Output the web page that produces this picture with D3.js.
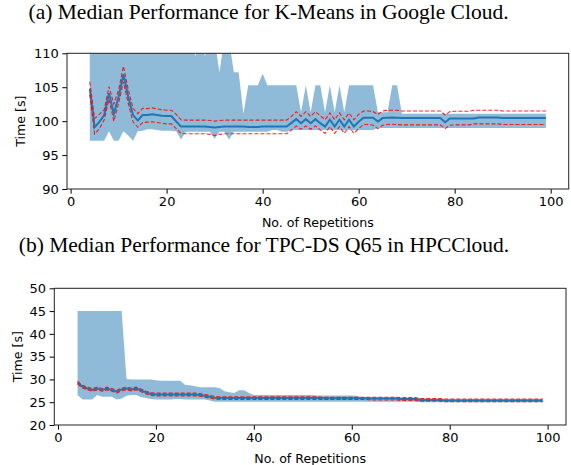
<!DOCTYPE html>
<html>
<head>
<meta charset="utf-8">
<script src="https://cdn.jsdelivr.net/npm/d3@7"></script>
<style>
  html, body { margin: 0; padding: 0; background: #fff; }
  svg { display: block; }
  .tick text { font-family: "DejaVu Sans", sans-serif; font-size: 13px; fill: #000; }
  .tick line { stroke: #000; }
  .title { font-family: "Liberation Serif", "Times New Roman", Times, serif; font-size: 21.5px; fill: #000; }
  .label { font-family: "DejaVu Sans", sans-serif; font-size: 12.6px; fill: #000; }
</style>
</head>
<body>
<div id="chart"></div>
<script>
// repetitions 4..99 on the x axis
const reps = d3.range(4, 100);

// (a) K-Means in Google Cloud
const kmMedian = [
  104.8, 99.1, 99.9, 100.9, 104.1, 101.1, 103.6, 106.9, 103.6, 100.9,
  100.1, 100.9, 100.9, 101.0, 100.9, 100.8, 100.75, 100.75, 99.95, 99.2,
  99.2, 99.2, 99.2, 99.2, 99.2, 99.15, 99.05, 99.15, 99.2, 99.2,
  99.2, 99.2, 99.2, 99.15, 99.15, 99.15, 99.2, 99.2, 99.2, 99.2,
  99.2, 99.2, 99.75, 100.3, 99.7, 100.3, 99.7, 100.3, 99.7, 99.2,
  100.2, 99.2, 100.2, 99.2, 100.2, 99.2, 99.9, 100.5, 100.5, 100.5,
  99.95, 100.45, 100.5, 100.55, 100.5, 100.45, 100.45, 100.45, 100.45, 100.45,
  100.45, 100.45, 100.45, 100.45, 99.85, 100.4, 100.4, 100.4, 100.4, 100.4,
  100.4, 100.55, 100.55, 100.55, 100.55, 100.55, 100.45, 100.45, 100.45, 100.45,
  100.45, 100.45, 100.45, 100.45, 100.45, 100.45
];
const kmUpper = [
  105.8, 100.4, 101.0, 101.7, 105.1, 102.5, 104.6, 108.1, 104.7, 101.9,
  101.1, 101.9, 101.85, 101.95, 101.8, 101.7, 101.6, 101.6, 101.0, 100.2,
  100.15, 100.15, 100.15, 100.15, 100.15, 100.1, 100.0, 100.1, 100.15, 100.15,
  100.15, 100.15, 100.15, 100.15, 100.15, 100.15, 100.15, 100.15, 100.15, 100.15,
  100.15, 100.15, 100.7, 101.4, 100.7, 101.4, 100.7, 101.4, 100.8, 100.2,
  101.2, 100.2, 101.2, 100.2, 101.2, 100.2, 101.0, 101.5, 101.5, 101.4,
  101.0, 101.5, 101.6, 101.6, 101.6, 101.5, 101.5, 101.5, 101.5, 101.5,
  101.5, 101.5, 101.5, 101.5, 100.9, 101.4, 101.45, 101.45, 101.45, 101.45,
  101.6, 101.6, 101.6, 101.6, 101.6, 101.6, 101.5, 101.5, 101.5, 101.5,
  101.5, 101.5, 101.5, 101.5, 101.5, 101.5
];
const kmLower = [
  103.9, 98.1, 98.9, 100.2, 103.2, 100.0, 102.6, 105.8, 102.6, 99.9,
  99.1, 99.8, 99.85, 99.9, 99.8, 99.7, 99.6, 99.6, 98.9, 98.2,
  98.15, 98.15, 98.15, 98.15, 98.15, 98.05, 97.9, 98.05, 98.15, 98.15,
  98.15, 98.15, 98.15, 98.15, 98.15, 98.15, 98.15, 98.15, 98.15, 98.15,
  98.15, 98.15, 98.7, 99.3, 98.8, 99.3, 98.8, 99.3, 98.7, 98.2,
  99.2, 98.2, 99.2, 98.2, 99.2, 98.2, 98.9, 99.5, 99.5, 99.4,
  98.9, 99.4, 99.5, 99.55, 99.5, 99.45, 99.45, 99.45, 99.45, 99.45,
  99.45, 99.45, 99.45, 99.45, 98.9, 99.4, 99.45, 99.45, 99.45, 99.45,
  99.6, 99.6, 99.6, 99.6, 99.6, 99.6, 99.5, 99.5, 99.5, 99.5,
  99.5, 99.5, 99.5, 99.5, 99.5, 99.5
];
const kmMax = [
  112, 112, 112, 112, 112, 112, 112, 112, 112, 112,
  112, 112, 112, 112, 112, 112, 112, 112, 112, 112,
  112, 112, 109.6, 112, 109.6, 112, 112, 107.2, 112, 112,
  107.2, 107.2, 101.1, 105.3, 105.3, 105.3, 107.0, 105.3, 105.3, 105.3,
  105.3, 105.3, 105.3, 105.3, 101.3, 105.3, 101.3, 105.3, 105.3, 101.3,
  105.3, 101.3, 105.3, 101.3, 105.3, 105.3, 105.3, 105.3, 105.3, 105.3,
  101.3, 101.3, 101.3, 105.3, 105.3, 101.1, 101.1, 101.1, 101.1, 101.1,
  101.1, 101.1, 101.1, 101.1, 101.1, 101.1, 101.1, 101.1, 101.1, 101.1,
  101.1, 101.1, 101.1, 101.1, 101.1, 101.1, 101.1, 101.1, 101.1, 101.1,
  101.1, 101.1, 101.1, 101.1, 101.1, 101.1
];
const kmMin = [
  97.1, 97.1, 97.1, 97.1, 98.5, 97.1, 97.1, 98.5, 97.9, 97.1,
  98.5, 98.6, 98.8, 98.8, 98.7, 98.6, 98.6, 98.6, 98.5, 97.3,
  98.45, 98.45, 98.45, 98.45, 98.45, 98.45, 97.4, 98.45, 98.45, 97.3,
  98.45, 98.45, 98.45, 98.45, 98.45, 98.45, 98.45, 98.45, 98.7, 98.7,
  98.45, 98.45, 98.7, 98.7, 98.7, 98.7, 98.7, 98.7, 98.7, 98.7,
  98.7, 98.7, 98.7, 98.7, 98.7, 98.7, 98.7, 98.7, 98.7, 98.7,
  99.0, 99.0, 99.0, 99.0, 99.0, 99.0, 99.0, 99.0, 99.0, 99.0,
  99.0, 99.0, 99.0, 99.0, 99.0, 99.0, 99.0, 99.0, 99.0, 99.0,
  99.0, 99.0, 99.0, 99.0, 99.0, 99.0, 99.0, 99.0, 99.0, 99.0,
  99.0, 99.0, 99.0, 99.0, 99.0, 99.0
];

// (b) TPC-DS Q65 in HPCCloud
const tpcMedian = [
  29.3, 28.4, 28.0, 27.7, 28.0, 27.7, 28.0, 27.7, 27.3, 27.8,
  28.0, 27.8, 28.0, 27.6, 27.1, 26.8, 26.7, 26.7, 26.7, 26.7,
  26.7, 26.7, 26.7, 26.7, 26.7, 26.6, 26.4, 26.2, 26.0, 25.9,
  25.9, 25.9, 25.9, 25.9, 25.9, 25.9, 25.9, 25.9, 25.9, 25.9,
  25.9, 25.9, 25.9, 25.9, 25.9, 25.9, 25.9, 25.9, 25.9, 25.9,
  25.85, 25.85, 25.85, 25.85, 25.85, 25.85, 25.85, 25.85, 25.85, 25.85,
  25.8, 25.8, 25.8, 25.8, 25.8, 25.8, 25.7, 25.7, 25.7, 25.7,
  25.5, 25.5, 25.5, 25.5, 25.5, 25.4, 25.4, 25.4, 25.4, 25.4,
  25.4, 25.4, 25.4, 25.4, 25.4, 25.4, 25.4, 25.4, 25.4, 25.4,
  25.4, 25.4, 25.4, 25.4, 25.4, 25.4
];
const tpcUpper = [
  29.6, 28.7, 28.3, 28.0, 28.3, 28.0, 28.3, 28.0, 27.6, 28.1,
  28.3, 28.1, 28.3, 27.9, 27.4, 27.1, 27.0, 27.0, 27.0, 27.0,
  27.0, 27.0, 27.0, 27.0, 27.0, 26.9, 26.7, 26.5, 26.3, 26.2,
  26.2, 26.2, 26.2, 26.2, 26.2, 26.2, 26.2, 26.2, 26.2, 26.2,
  26.2, 26.2, 26.2, 26.2, 26.2, 26.2, 26.2, 26.2, 26.2, 26.2,
  26.1, 26.1, 26.1, 26.1, 26.1, 26.1, 26.1, 26.1, 26.1, 26.1,
  26.1, 26.1, 26.1, 26.1, 26.1, 26.1, 26.0, 26.0, 26.0, 26.0,
  25.8, 25.8, 25.8, 25.8, 25.8, 25.7, 25.7, 25.7, 25.7, 25.7,
  25.7, 25.7, 25.7, 25.7, 25.7, 25.7, 25.7, 25.7, 25.7, 25.7,
  25.7, 25.7, 25.7, 25.7, 25.7, 25.7
];
const tpcLower = [
  29.0, 28.1, 27.7, 27.4, 27.7, 27.4, 27.7, 27.4, 27.0, 27.5,
  27.7, 27.5, 27.7, 27.3, 26.8, 26.5, 26.4, 26.4, 26.4, 26.4,
  26.4, 26.4, 26.4, 26.4, 26.4, 26.3, 26.1, 25.9, 25.7, 25.6,
  25.6, 25.6, 25.6, 25.6, 25.6, 25.6, 25.6, 25.6, 25.6, 25.6,
  25.6, 25.6, 25.6, 25.6, 25.6, 25.6, 25.6, 25.6, 25.6, 25.6,
  25.6, 25.6, 25.6, 25.6, 25.6, 25.6, 25.6, 25.6, 25.6, 25.6,
  25.5, 25.5, 25.5, 25.5, 25.5, 25.5, 25.4, 25.4, 25.4, 25.4,
  25.2, 25.2, 25.2, 25.2, 25.2, 25.1, 25.1, 25.1, 25.1, 25.1,
  25.1, 25.1, 25.1, 25.1, 25.1, 25.1, 25.1, 25.1, 25.1, 25.1,
  25.1, 25.1, 25.1, 25.1, 25.1, 25.1
];
const tpcMax = [
  45.0, 45.0, 45.0, 45.0, 45.0, 45.0, 45.0, 45.0, 45.0, 45.0,
  30.1, 30.0, 30.0, 30.0, 30.0, 30.0, 29.8, 29.7, 29.7, 29.7,
  29.7, 29.7, 28.8, 28.7, 28.5, 28.3, 28.3, 28.3, 28.3, 28.1,
  27.4, 27.2, 27.0, 27.6, 27.6, 27.0, 26.6, 26.6, 26.6, 26.6,
  26.6, 26.6, 26.6, 26.6, 26.6, 26.6, 26.6, 26.6, 26.6, 26.5,
  26.5, 26.5, 26.5, 26.5, 26.5, 26.5, 26.5, 26.4, 26.1, 26.1,
  26.1, 26.1, 26.1, 26.1, 26.1, 26.1, 26.0, 26.0, 26.0, 26.0,
  25.9, 25.8, 25.8, 25.8, 25.8, 25.7, 25.7, 25.7, 25.7, 25.7,
  25.7, 25.7, 25.7, 25.7, 25.7, 25.7, 25.7, 25.7, 25.7, 25.7,
  25.7, 25.7, 25.7, 25.7, 25.7, 25.7
];
const tpcMin = [
  26.6, 25.6, 25.6, 25.6, 26.6, 26.2, 26.2, 26.2, 25.6, 25.8,
  26.4, 26.6, 26.6, 26.1, 25.9, 25.7, 25.6, 25.6, 25.6, 25.6,
  25.7, 25.7, 25.6, 25.6, 25.6, 25.6, 25.6, 25.4, 25.1, 25.1,
  25.1, 25.1, 25.1, 25.1, 25.1, 25.1, 25.1, 25.1, 25.1, 25.1,
  25.1, 25.1, 25.1, 25.1, 25.1, 25.1, 25.1, 25.1, 25.1, 25.1,
  25.1, 25.1, 25.1, 25.1, 25.1, 25.1, 25.1, 25.1, 25.1, 25.1,
  25.1, 25.1, 25.1, 25.1, 25.1, 25.1, 25.1, 25.1, 25.1, 25.1,
  25.0, 25.0, 25.0, 25.0, 25.0, 25.0, 25.0, 25.0, 25.0, 25.0,
  25.0, 25.0, 25.0, 25.0, 25.0, 25.0, 25.0, 25.0, 25.0, 25.0,
  25.0, 25.0, 25.0, 25.0, 25.0, 25.0
];

const xTicks = [0, 20, 40, 60, 80, 100];
const kmYTicks = [90, 95, 100, 105, 110];
const tpcYTicks = [20, 25, 30, 35, 40, 45, 50];

const svg = d3.select("#chart").append("svg")
  .attr("width", 571)
  .attr("height", 465);

function drawPanel(cfg) {
  const x = d3.scaleLinear().domain([-0.75, 103.75]).range([cfg.left, cfg.right]);
  const y = d3.scaleLinear().domain(cfg.yDomain).range([cfg.bottom, cfg.top]);

  svg.append("text")
    .attr("class", "title")
    .attr("x", cfg.titleX)
    .attr("y", cfg.titleY)
    .attr("text-anchor", "middle")
    .text(cfg.title);

  svg.append("clipPath").attr("id", cfg.id + "-clip")
    .append("rect")
    .attr("x", cfg.left).attr("y", cfg.top)
    .attr("width", cfg.right - cfg.left)
    .attr("height", cfg.bottom - cfg.top);

  const g = svg.append("g").attr("clip-path", `url(#${cfg.id}-clip)`);

  const area = d3.area()
    .x((d, i) => x(reps[i]))
    .y0((d, i) => y(cfg.min[i]))
    .y1((d, i) => y(cfg.max[i]));

  g.append("path")
    .datum(cfg.max)
    .attr("fill", "#1f77b4")
    .attr("fill-opacity", 0.5)
    .attr("d", area);

  const line = d3.line().x((d, i) => x(reps[i])).y((d) => y(d));

  g.append("path")
    .datum(cfg.median)
    .attr("fill", "none")
    .attr("stroke", "#1f77b4")
    .attr("stroke-width", 2)
    .attr("d", line);

  [cfg.upper, cfg.lower].forEach((s) => {
    g.append("path")
      .datum(s)
      .attr("fill", "none")
      .attr("stroke", "#ff0000")
      .attr("stroke-opacity", 0.85)
      .attr("stroke-width", 1.1)
      .attr("stroke-dasharray", "4,2")
      .attr("d", line);
  });

  const xAxis = svg.append("g")
    .attr("transform", `translate(0,${cfg.bottom})`)
    .call(d3.axisBottom(x).tickValues(xTicks).tickSize(4.7).tickPadding(3.5));
  xAxis.select(".domain").remove();

  const yAxis = svg.append("g")
    .attr("transform", `translate(${cfg.left},0)`)
    .call(d3.axisLeft(y).tickValues(cfg.yTicks).tickSize(4.7).tickPadding(3.5));
  yAxis.select(".domain").remove();

  svg.append("rect")
    .attr("x", cfg.left).attr("y", cfg.top)
    .attr("width", cfg.right - cfg.left)
    .attr("height", cfg.bottom - cfg.top)
    .attr("fill", "none")
    .attr("stroke", "#222")
    .attr("stroke-width", 1);

  svg.append("text")
    .attr("class", "label")
    .attr("x", (cfg.left + cfg.right) / 2)
    .attr("y", cfg.bottom + 37.5)
    .attr("text-anchor", "middle")
    .text("No. of Repetitions");

  svg.append("text")
    .attr("class", "label")
    .attr("transform", `translate(${cfg.yLabelX},${(cfg.top + cfg.bottom) / 2}) rotate(-90)`)
    .attr("text-anchor", "middle")
    .text("Time [s]");
}

drawPanel({
  id: "km", title: "(a) Median Performance for K-Means in Google Cloud.",
  titleX: 268.5, titleY: 19,
  left: 67, right: 568.7, top: 53.3, bottom: 189,
  yDomain: [90, 110], yTicks: kmYTicks, yLabelX: 25,
  median: kmMedian, upper: kmUpper, lower: kmLower, max: kmMax, min: kmMin
});

drawPanel({
  id: "tpc", title: "(b) Median Performance for TPC-DS Q65 in HPCCloud.",
  titleX: 264, titleY: 252,
  left: 54.3, right: 566, top: 288.3, bottom: 425,
  yDomain: [20, 50], yTicks: tpcYTicks, yLabelX: 22,
  median: tpcMedian, upper: tpcUpper, lower: tpcLower, max: tpcMax, min: tpcMin
});
</script>
</body>
</html>
